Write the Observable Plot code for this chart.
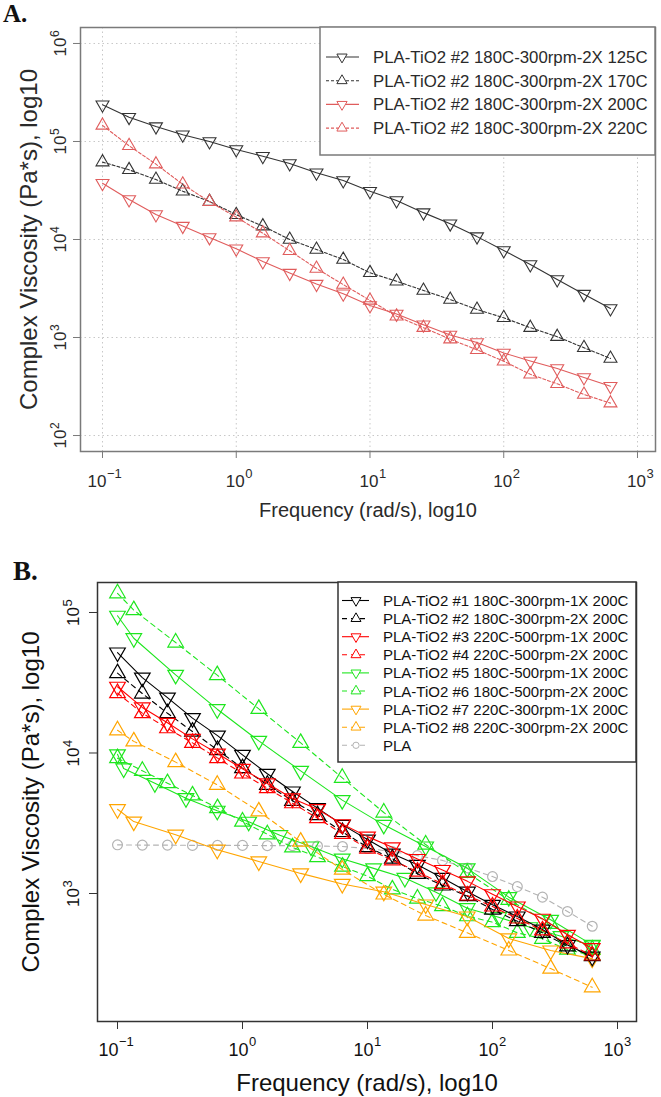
<!DOCTYPE html>
<html>
<head>
<meta charset="utf-8">
<script src="https://cdn.jsdelivr.net/npm/d3@7"></script>
<script src="https://cdn.jsdelivr.net/npm/@observablehq/plot@0.6"></script>
<style>
  body { margin: 0; background: #fff; }
  #page { position: relative; width: 661px; height: 1097px; overflow: hidden; background: #fff; }
  #page svg { position: absolute; left: 0; }
</style>
</head>
<body>
<div id="page"></div>
<script>
// ---------- frequency grids (rad/s) ----------
const FREQ_FIVE = [0.1, 0.158, 0.251, 0.398, 0.631, 1.0, 1.58, 2.51, 3.98, 6.31, 10.0, 15.8, 25.1, 39.8, 63.1, 100, 158, 251, 398, 628];
const FREQ_THREE = [0.1, 0.135, 0.292, 0.628, 1.35, 2.92, 6.28, 13.5, 29.2, 62.8, 135, 292, 628];
const FREQ_FOUR = [0.1, 0.112, 0.199, 0.353, 0.628, 1.12, 1.99, 3.53, 6.28, 11.2, 19.9, 35.3, 62.8, 112, 199, 353, 628];

// ---------- panel A: sample #2 at four test temperatures (Pa*s) ----------
const A_NAMES = [
  "PLA-TiO2 #2 180C-300rpm-2X 125C",
  "PLA-TiO2 #2 180C-300rpm-2X 170C",
  "PLA-TiO2 #2 180C-300rpm-2X 200C",
  "PLA-TiO2 #2 180C-300rpm-2X 220C"
];
const A_ETA_125 = [237000, 177000, 142000, 117000, 100000, 82800, 70800, 59700, 48000, 40000, 31100, 25000, 18800, 14500, 10700, 7730, 5560, 3910, 2770, 1980];
const A_ETA_170 = [61600, 51400, 40900, 31100, 24400, 17900, 13700, 10000, 7910, 6250, 4570, 3750, 3020, 2440, 1930, 1590, 1260, 1020, 786, 611];
const A_ETA_200 = [37500, 25600, 18000, 13700, 10500, 8040, 5970, 4540, 3510, 2800, 2120, 1740, 1350, 1060, 890, 695, 576, 483, 391, 318];
const A_ETA_220 = [146000, 90400, 58700, 36600, 24300, 16900, 11600, 7680, 5060, 3470, 2390, 1650, 1260, 962, 749, 573, 421, 337, 262, 214];

// ---------- panel B: all samples at 200C (Pa*s) ----------
const B_NAMES = [
  "PLA-TiO2 #1 180C-300rpm-1X 200C",
  "PLA-TiO2 #2 180C-300rpm-2X 200C",
  "PLA-TiO2 #3 220C-500rpm-1X 200C",
  "PLA-TiO2 #4 220C-500rpm-2X 200C",
  "PLA-TiO2 #5 180C-500rpm-1X 200C",
  "PLA-TiO2 #6 180C-500rpm-2X 200C",
  "PLA-TiO2 #7 220C-300rpm-1X 200C",
  "PLA-TiO2 #8 220C-300rpm-2X 200C",
  "PLA"
];
const B_ETA_1 = [51900, 34400, 24800, 17700, 13300, 9700, 7110, 5320, 4050, 3080, 2420, 1920, 1600, 1290, 1030, 831, 686, 554, 430, 355];
const B_ETA_2 = [37000, 26500, 19200, 14200, 10500, 7800, 5940, 4570, 3610, 2740, 2140, 1770, 1380, 1140, 957, 769, 635, 525, 421, 358];
const B_ETA_3 = [29600, 21100, 16400, 12600, 9910, 7720, 6070, 4750, 3980, 3110, 2540, 2130, 1760, 1470, 1220, 988, 808, 661, 508, 408];
const B_ETA_4 = [26700, 19200, 15000, 11800, 9190, 7150, 5620, 4390, 3440, 2660, 2090, 1720, 1430, 1170, 968, 808, 664, 546, 441, 362];
const B_ETA_5 = [94800, 65600, 36000, 20500, 12200, 7460, 4620, 3080, 2160, 1510, 942, 650, 431];
const B_ETA_6 = [137000, 104000, 61100, 35800, 20600, 11800, 6660, 3770, 2230, 1400, 902, 608, 399];
const B_ETA_5_REPEAT = [9790, 7760, 6100, 4770, 3880, 3240, 2600, 2160, 1770, 1510, 1290, 1020, 786, 678, 575, 497, 427];
const B_ETA_6_REPEAT = [9190, 7470, 6100, 4990, 4050, 3250, 2640, 2130, 1815, 1553, 1330, 1070, 920, 812, 689, 625, 525, 476, 399, 362];
const B_ETA_7 = [3980, 3250, 2620, 2050, 1690, 1390, 1170, 1030, 835, 686, 479, 393, 344];
const B_ETA_8 = [14500, 12100, 8610, 5940, 3840, 2340, 1480, 984, 697, 525, 393, 292, 215];
const B_ETA_PLA = [2220, 2210, 2210, 2200, 2200, 2200, 2190, 2190, 2180, 2160, 2090, 1990, 1860, 1720, 1520, 1320, 1120, 942, 745, 585];

// ---------- axis decades ----------
const X_DECADES = [-1, 0, 1, 2, 3];
const A_Y_DECADES = [2, 3, 4, 5, 6];
const B_Y_DECADES = [3, 4, 5];

// ---------- drawing helpers ----------
const FONT = "Liberation Sans, Arial, Helvetica, sans-serif";

// downward-pointing triangle, centred on its centroid like d3.symbolTriangle
const triangleDown = {
  draw(ctx, size) {
    const y = -Math.sqrt(size / (Math.sqrt(3) * 3));
    ctx.moveTo(0, -2 * y);
    ctx.lineTo(Math.sqrt(3) * y, y);
    ctx.lineTo(-Math.sqrt(3) * y, y);
    ctx.closePath();
  }
};
const SYMBOLS = {down: triangleDown, up: d3.symbolTriangle, circle: d3.symbolCircle};
const PLOT_SYMBOLS = {down: triangleDown, up: "triangle", circle: "circle"};

const expText = (e) => (e < 0 ? "\u2212" + (-e) : String(e));

function rowsOf(freq, eta) {
  return freq.map((f, i) => ({f, v: eta[i]}));
}

function seriesMarks(run, r, lineWidth, dotWidth) {
  const rows = rowsOf(run.freq, run.eta);
  return [
    Plot.line(rows, {x: "f", y: "v", stroke: run.color, strokeWidth: lineWidth, strokeDasharray: run.dash || null}),
    Plot.dot(rows, {x: "f", y: "v", symbol: PLOT_SYMBOLS[run.marker], r: run.marker === "circle" ? r * 0.85 : r,
                    stroke: run.color, fill: "none", strokeWidth: dotWidth})
  ];
}

// "10" with a raised exponent under each bottom tick
function xDecadeLabels(exps, c) {
  const out = [];
  for (const [grp, shift] of [[exps.filter(e => e < 0), c.shiftNeg], [exps.filter(e => e >= 0), c.shiftPos]]) {
    if (!grp.length) continue;
    out.push(Plot.text(grp, {x: e => 10 ** e, text: () => "10", frameAnchor: "bottom", textAnchor: "end",
      lineAnchor: "bottom", dx: shift, dy: c.dyBase, fontSize: c.size, fill: c.color}));
    out.push(Plot.text(grp, {x: e => 10 ** e, text: e => expText(e), frameAnchor: "bottom", textAnchor: "start",
      lineAnchor: "bottom", dx: shift + 0.5, dy: c.dyExp, fontSize: c.expSize, fill: c.color}));
  }
  return out;
}

// rotated "10" with exponent beside each left tick
function yDecadeLabels(exps, c) {
  return [
    Plot.text(exps, {y: e => 10 ** e, text: () => "10", frameAnchor: "left", rotate: -90, textAnchor: "end",
      lineAnchor: "bottom", dx: c.dxBase, dy: c.junction, fontSize: c.size, fill: c.color}),
    Plot.text(exps, {y: e => 10 ** e, text: e => expText(e), frameAnchor: "left", rotate: -90, textAnchor: "start",
      lineAnchor: "bottom", dx: c.dxExp, dy: c.junction - 0.5, fontSize: c.expSize, fill: c.color})
  ];
}

const page = document.getElementById("page");

// ---------- panel A ----------
const A_RUNS = [
  {freq: FREQ_FIVE, eta: A_ETA_125, color: "#333333", dash: null, marker: "down"},
  {freq: FREQ_FIVE, eta: A_ETA_170, color: "#333333", dash: "3,2", marker: "up"},
  {freq: FREQ_FIVE, eta: A_ETA_200, color: "#e05c5c", dash: null, marker: "down"},
  {freq: FREQ_FIVE, eta: A_ETA_220, color: "#e05c5c", dash: "3,2", marker: "up"}
];
const A_INK = "#2a2a2a";
const plotA = Plot.plot({
  width: 661, height: 525,
  marginTop: 27, marginRight: 6, marginBottom: 74, marginLeft: 80,
  x: {type: "log", domain: [10 ** -1.1645, 10 ** 3.1346], axis: null, label: null},
  y: {type: "log", domain: [10 ** 1.837, 10 ** 6.163], axis: null, label: null},
  style: {fontFamily: FONT, background: "transparent", overflow: "visible"},
  marks: [
    Plot.gridX(X_DECADES.map(e => 10 ** e), {stroke: "#c8c8c8", strokeOpacity: 1, strokeDasharray: "1.5,3"}),
    Plot.gridY(A_Y_DECADES.map(e => 10 ** e), {stroke: "#c8c8c8", strokeOpacity: 1, strokeDasharray: "1.5,3"}),
    ...A_RUNS.flatMap(run => seriesMarks(run, 4.8, 1.1, 1.1)),
    Plot.frame({stroke: "#7a7a7a", strokeWidth: 1.5}),
    Plot.axisX(X_DECADES.map(e => 10 ** e), {anchor: "bottom", tickSize: 7, tickFormat: () => "", stroke: "#7a7a7a", label: null}),
    Plot.axisY(A_Y_DECADES.map(e => 10 ** e), {anchor: "left", tickSize: 7, tickFormat: () => "", stroke: "#7a7a7a", label: null}),
    ...xDecadeLabels(X_DECADES, {shiftNeg: 4, shiftPos: 8.5, dyBase: 35, dyExp: 26, size: 17, expSize: 13, color: A_INK}),
    ...yDecadeLabels(A_Y_DECADES, {dxBase: -15, dxExp: -22, junction: -6, size: 17, expSize: 12, color: A_INK}),
    Plot.text(["Frequency (rad/s), log10"], {text: d => d, frameAnchor: "bottom", textAnchor: "middle", lineAnchor: "bottom", dy: 65, fontSize: 20, fill: A_INK}),
    Plot.text(["Complex Viscosity (Pa*s), log10"], {text: d => d, frameAnchor: "left", rotate: -90, textAnchor: "middle", lineAnchor: "bottom", dx: -44, fontSize: 24, fill: A_INK})
  ]
});
plotA.style.top = "0px";
page.appendChild(plotA);

// ---------- panel B ----------
const BLACK = "#000000", RED = "#ff0000", GREEN = "#1ee61e", ORANGE = "#ffa500", GREY = "#b3b3b3";
const B_LEGEND = [
  {color: BLACK, dash: null, marker: "down"},
  {color: BLACK, dash: "5,4", marker: "up"},
  {color: RED, dash: null, marker: "down"},
  {color: RED, dash: "5,4", marker: "up"},
  {color: GREEN, dash: null, marker: "down"},
  {color: GREEN, dash: "5,4", marker: "up"},
  {color: ORANGE, dash: null, marker: "down"},
  {color: ORANGE, dash: "5,4", marker: "up"},
  {color: GREY, dash: "5,4", marker: "circle"}
];
const B_RUNS = [
  {freq: FREQ_FIVE, eta: B_ETA_PLA, ...B_LEGEND[8]},
  {freq: FREQ_FOUR, eta: B_ETA_5_REPEAT, ...B_LEGEND[4]},
  {freq: FREQ_FIVE, eta: B_ETA_6_REPEAT, ...B_LEGEND[5]},
  {freq: FREQ_THREE, eta: B_ETA_7, ...B_LEGEND[6]},
  {freq: FREQ_THREE, eta: B_ETA_8, ...B_LEGEND[7]},
  {freq: FREQ_THREE, eta: B_ETA_5, ...B_LEGEND[4]},
  {freq: FREQ_THREE, eta: B_ETA_6, ...B_LEGEND[5]},
  {freq: FREQ_FIVE, eta: B_ETA_1, ...B_LEGEND[0]},
  {freq: FREQ_FIVE, eta: B_ETA_2, ...B_LEGEND[1]},
  {freq: FREQ_FIVE, eta: B_ETA_3, ...B_LEGEND[2]},
  {freq: FREQ_FIVE, eta: B_ETA_4, ...B_LEGEND[3]}
];
const B_INK = "#111111";
const B_TOP = 525;
const plotB = Plot.plot({
  width: 661, height: 572,
  marginTop: 57, marginRight: 25, marginBottom: 76, marginLeft: 97,
  x: {type: "log", domain: [10 ** -1.16, 10 ** 3.152], axis: null, label: null},
  y: {type: "log", domain: [10 ** 2.089, 10 ** 5.2135], axis: null, label: null},
  style: {fontFamily: FONT, background: "transparent", overflow: "visible"},
  marks: [
    ...B_RUNS.flatMap(run => seriesMarks(run, 5.8, 1.1, 1.2)),
    Plot.frame({stroke: "#333333", strokeWidth: 1.5}),
    Plot.axisX(X_DECADES.map(e => 10 ** e), {anchor: "bottom", tickSize: 8, tickFormat: () => "", stroke: "#333333", label: null}),
    Plot.axisY(B_Y_DECADES.map(e => 10 ** e), {anchor: "left", tickSize: 8, tickFormat: () => "", stroke: "#333333", label: null}),
    ...xDecadeLabels(X_DECADES, {shiftNeg: 1, shiftPos: 6, dyBase: 34, dyExp: 24, size: 18, expSize: 13, color: B_INK}),
    ...yDecadeLabels(B_Y_DECADES, {dxBase: -19, dxExp: -26, junction: -5.5, size: 17, expSize: 13, color: B_INK}),
    Plot.text(["Frequency (rad/s), log10"], {text: d => d, frameAnchor: "bottom", textAnchor: "middle", lineAnchor: "bottom", dy: 69, fontSize: 24, fill: B_INK}),
    Plot.text(["Complex Viscosity (Pa*s), log10"], {text: d => d, frameAnchor: "left", rotate: -90, textAnchor: "middle", lineAnchor: "bottom", dx: -59, fontSize: 24, fill: B_INK})
  ]
});
plotB.style.top = B_TOP + "px";
page.appendChild(plotB);

// ---------- panel tags and legends ----------
const overlay = d3.select(page).append("svg")
  .attr("width", 661).attr("height", 1097)
  .style("top", "0px").style("pointer-events", "none");

overlay.append("text").attr("x", 3).attr("y", 22)
  .attr("font-family", "Liberation Serif, Times New Roman, serif").attr("font-weight", "bold")
  .attr("font-size", 25).attr("fill", "#111").text("A.");
overlay.append("text").attr("x", 13).attr("y", 580)
  .attr("font-family", "Liberation Serif, Times New Roman, serif").attr("font-weight", "bold")
  .attr("font-size", 27).attr("fill", "#111").text("B.");

function drawLegend(names, styles, o) {
  const g = overlay.append("g");
  g.append("rect").attr("x", o.x0).attr("y", o.y0).attr("width", o.x1 - o.x0).attr("height", o.y1 - o.y0)
    .attr("fill", "#fff").attr("stroke", o.stroke).attr("stroke-width", o.strokeWidth);
  names.forEach((name, k) => {
    const st = styles[k];
    const y = o.row0 + k * o.step;
    g.append("line").attr("x1", o.lineX0).attr("x2", o.lineX1).attr("y1", y).attr("y2", y)
      .attr("stroke", st.color).attr("stroke-width", 1.1).attr("stroke-dasharray", st.dash);
    const r = st.marker === "circle" ? o.r * 0.85 : o.r;
    g.append("path").attr("d", d3.symbol(SYMBOLS[st.marker], Math.PI * r * r)())
      .attr("transform", `translate(${o.symX},${y})`)
      .attr("fill", "#fff").attr("stroke", st.color).attr("stroke-width", 1);
    g.append("text").attr("x", o.textX).attr("y", y + o.baseline)
      .attr("font-family", FONT).attr("font-size", o.fontSize).attr("fill", o.ink).text(name);
  });
}

drawLegend(A_NAMES, A_RUNS, {
  x0: 320, y0: 27, x1: 655, y1: 155, stroke: "#7a7a7a", strokeWidth: 1.5,
  row0: 57, step: 23.7, lineX0: 326, lineX1: 359, symX: 342, r: 3.8,
  textX: 373, baseline: 6, fontSize: 16.8, ink: A_INK
});
drawLegend(B_NAMES, B_LEGEND, {
  x0: 338, y0: 582, x1: 636, y1: 762, stroke: "#333333", strokeWidth: 1.5,
  row0: 600.5, step: 18.1, lineX0: 342, lineX1: 369, symX: 356, r: 3.7,
  textX: 383, baseline: 5.5, fontSize: 15, ink: B_INK
});
</script>
</body>
</html>
